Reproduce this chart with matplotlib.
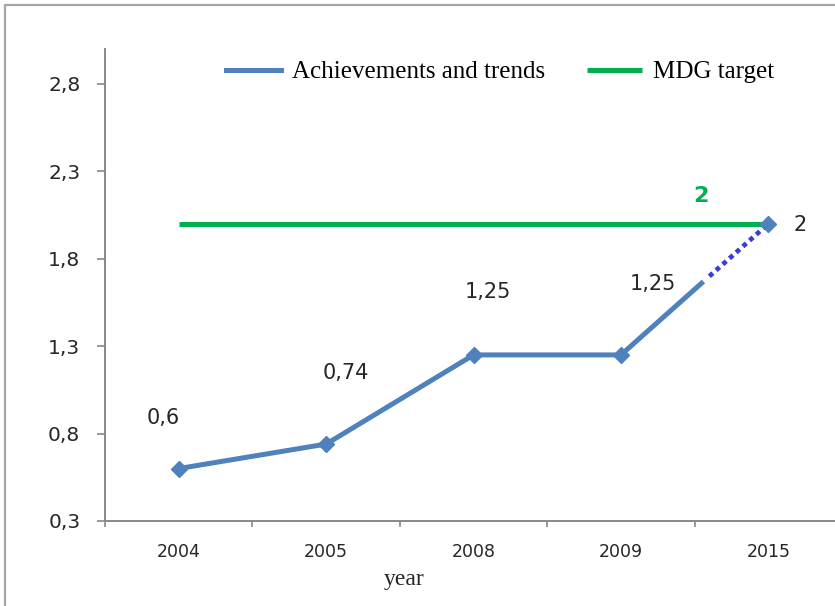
import matplotlib.pyplot as plt
import matplotlib.patches as patches
import numpy as np

years = ['2004', '2005', '2008', '2009', '2015']
achieved = [0.6, 0.74, 1.25, 1.25, 2.0]
target = [2, 2, 2, 2, 2]
achieved_labels = ['0,6', '0,74', '1,25', '1,25', '2']
ytick_vals = [0.3, 0.8, 1.3, 1.8, 2.3, 2.8]
ytick_labels = ['0,3', '0,8', '1,3', '1,8', '2,3', '2,8']

blue = '#4F81BD'
green = '#00B050'
dot_blue = '#3C3CD0'

fig = plt.figure(figsize=(8.35, 6.06), dpi=100)
# outer chart border (cut off at right and bottom like the source)
fig.patches.append(patches.Rectangle((5 / 835, -0.05), 1.2, 1 - 5 / 606 + 0.05,
                                     transform=fig.transFigure, fill=False,
                                     edgecolor='#A6A6A6', linewidth=1.6))

ax = fig.add_axes([105 / 835, 1 - 521 / 606, 737 / 835, (521 - 49) / 606])
x = np.arange(len(years))

# target line
ax.plot(x, target, color=green, linewidth=3.6, solid_capstyle='butt', label='MDG target', zorder=2)

# achievements: solid up to 2009, then projected part partly dotted
ax.plot(x[:4], achieved[:4], color=blue, linewidth=3.6, marker='D', markersize=8.5, label='Achievements and trends', zorder=3)
split = 0.56
gap = 0.6
xs = x[3] + split
ys = achieved[3] + split * (achieved[4] - achieved[3])
ax.plot([x[3], xs], [achieved[3], ys], color=blue, linewidth=3.6, solid_capstyle='butt', zorder=3)
xd = x[3] + gap
yd = achieved[3] + gap * (achieved[4] - achieved[3])
ax.plot([xd, x[4]], [yd, achieved[4]], color=dot_blue, linewidth=3.4, linestyle=(0, (1.0, 0.9)), dash_capstyle='butt', zorder=3)
ax.plot(x[4], achieved[4], marker='D', markersize=8.5, color=blue, zorder=4)

# data labels
lbl_offsets = [(-11, 29), (14, 44), (10, 38), (23, 44)]
for i in range(4):
    ax.annotate(achieved_labels[i], (x[i], achieved[i]), xytext=lbl_offsets[i], textcoords='offset points',
                ha='center', va='bottom', fontsize=15, color='#262626')
ax.annotate(achieved_labels[4], (x[4], achieved[4]), xytext=(18, -1), textcoords='offset points',
            ha='left', va='center', fontsize=15, color='#262626')
ax.annotate('2', (x[3] + 0.54, target[3]), xytext=(0, 13), textcoords='offset points',
            ha='center', va='bottom', fontsize=16, color=green, fontweight='bold')

ax.set_xlim(-0.5, len(years) - 0.5)
ax.set_ylim(0.3, 3.0)
ax.set_yticks(ytick_vals)
ax.set_yticklabels(ytick_labels, fontsize=14.5, color='#262626')
ax.set_xticks(x)
ax.set_xticklabels(years, fontsize=12.5, color='#262626')
ax.set_xticks(np.arange(-0.5, len(years), 1.0), minor=True)
ax.tick_params(axis='x', which='major', length=0, pad=16)
ax.tick_params(axis='x', which='minor', length=4.5, color='#888888', width=1.2)
ax.tick_params(axis='y', length=5.8, color='#888888', width=1.2, pad=12)

for s in ['top', 'right']:
    ax.spines[s].set_visible(False)
for s in ['left', 'bottom']:
    ax.spines[s].set_color('#888888')
    ax.spines[s].set_linewidth(1.4)

ax.set_xlabel('year', fontsize=17, family='Liberation Serif', color='#262626')
ax.xaxis.set_label_coords((404 - 105) / 737, -(580 - 521) / 472)
ax.xaxis.label.set_verticalalignment('center')

handles, labels = ax.get_legend_handles_labels()
leg = ax.legend(handles[::-1], labels[::-1], loc='center', bbox_to_anchor=((500 - 105) / 737, (521 - 72) / 472),
                ncol=2, frameon=False, prop={'family': 'Liberation Serif', 'size': 18},
                handlelength=2.2, columnspacing=1.7, handletextpad=0.44)
for h in leg.legend_handles:
    h.set_marker('')

fig.savefig('out.png', dpi=100)
